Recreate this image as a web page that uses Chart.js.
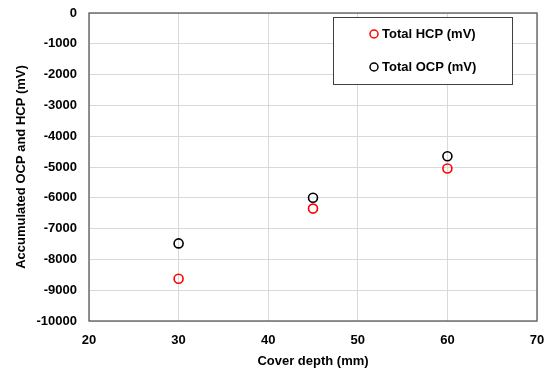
<!DOCTYPE html>
<html>
<head>
<meta charset="utf-8" />
<script src="https://cdn.jsdelivr.net/npm/chart.js@4.4.1/dist/chart.umd.min.js"></script>
<style>
  html, body { margin: 0; padding: 0; background: #fff; }
  #wrap { width: 552px; height: 369px; }
</style>
</head>
<body>
<div id="wrap"><canvas id="c" width="552" height="369"></canvas></div>
<script>
// cover depth (mm)
const coverDepth = [30, 45, 60];
const totalHCP = [-8630, -6350, -5050];
const totalOCP = [-7480, -6000, -4650];
const seriesLabels = ["Total HCP (mV)", "Total OCP (mV)"];

const FONT = "'Liberation Sans', Arial, sans-serif";

// frame around plot area
const framePlugin = {
  id: "frame",
  afterDraw(chart) {
    const a = chart.chartArea, ctx = chart.ctx;
    ctx.save();
    ctx.strokeStyle = "#595959";
    ctx.lineWidth = 1.3;
    ctx.strokeRect(a.left, a.top, a.right - a.left, a.bottom - a.top);
    ctx.restore();
  }
};

// boxed legend inside the plot
const boxLegend = {
  id: "boxLegend",
  afterDraw(chart) {
    const ctx = chart.ctx;
    const x0 = 333, y0 = 17, w = 179, h = 67;
    ctx.save();
    ctx.fillStyle = "#fff";
    ctx.fillRect(x0, y0, w, h);
    ctx.strokeStyle = "#404040";
    ctx.lineWidth = 1;
    ctx.strokeRect(x0 + 0.5, y0 + 0.5, w, h);
    ctx.font = "bold 13px " + FONT;
    ctx.textBaseline = "middle";
    chart.data.datasets.forEach((ds, i) => {
      const y = 34 + i * 33;
      ctx.beginPath();
      ctx.arc(374, y, 4, 0, Math.PI * 2);
      ctx.strokeStyle = ds.borderColor;
      ctx.lineWidth = 1.5;
      ctx.stroke();
      ctx.fillStyle = "#000";
      ctx.fillText(ds.label, 382, y);
    });
    ctx.restore();
  }
};

const pts = (xs, ys) => xs.map((x, i) => ({ x: x, y: ys[i] }));
const plain = v => String(v);

new Chart(document.getElementById("c"), {
  type: "scatter",
  data: {
    datasets: [
      {
        label: seriesLabels[0],
        data: pts(coverDepth, totalHCP),
        borderColor: "#ff0000",
        backgroundColor: "rgba(0,0,0,0)",
        pointRadius: 4.5,
        pointBorderWidth: 1.6,
      },
      {
        label: seriesLabels[1],
        data: pts(coverDepth, totalOCP),
        borderColor: "#000000",
        backgroundColor: "rgba(0,0,0,0)",
        pointRadius: 4.5,
        pointBorderWidth: 1.6,
      },
    ],
  },
  options: {
    responsive: false,
    animation: false,
    layout: { padding: { left: 14, top: 13, right: 15, bottom: 0 } },
    plugins: { legend: { display: false }, tooltip: { enabled: false } },
    scales: {
      x: {
        min: 20, max: 70,
        ticks: { stepSize: 10, color: "#000", padding: 12, callback: plain, font: { family: FONT, size: 13, weight: "bold" } },
        grid: { color: "#d9d9d9", drawTicks: false },
        border: { display: false },
        title: { display: true, text: "Cover depth (mm)", color: "#000", padding: { top: 2, bottom: 0 }, font: { family: FONT, size: 13, weight: "bold" } },
        afterFit(s) { s.height = 48; s.paddingLeft = 0; s.paddingRight = 0; },
      },
      y: {
        min: -10000, max: 0,
        ticks: { stepSize: 1000, color: "#000", padding: 12, callback: plain, font: { family: FONT, size: 13, weight: "bold" } },
        grid: { color: "#d9d9d9", drawTicks: false },
        border: { display: false },
        title: { display: true, text: "Accumulated OCP and HCP (mV)", color: "#000", padding: { top: 0, bottom: 4 }, font: { family: FONT, size: 13, weight: "bold" } },
        afterFit(s) { s.width = 75; s.paddingTop = 0; s.paddingBottom = 0; },
      },
    },
  },
  plugins: [framePlugin, boxLegend],
});
</script>
</body>
</html>
